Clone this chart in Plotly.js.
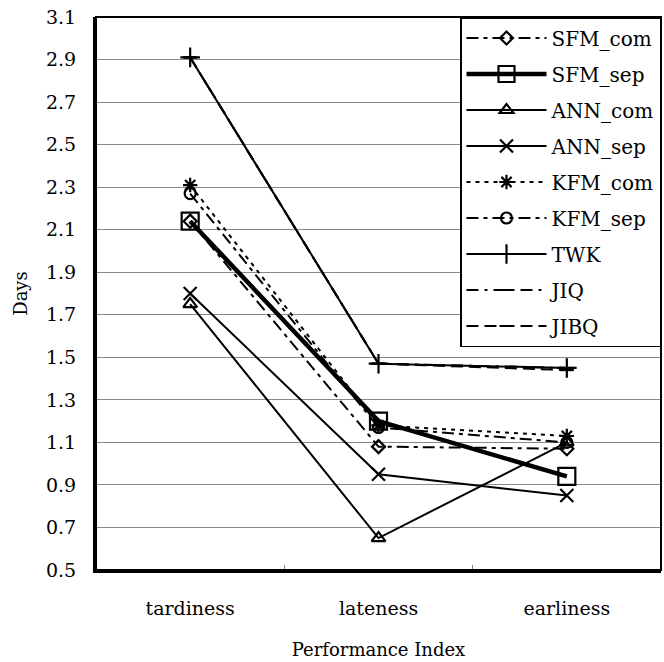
<!DOCTYPE html>
<html>
<head>
<meta charset="utf-8">
<script src="https://cdn.plot.ly/plotly-3.0.1.min.js"></script>
<style>html,body{margin:0;padding:0;background:#fff;}#chart{width:664px;height:662px;}</style>
</head>
<body>
<div id="chart"></div>
<script>
const categories = ["tardiness", "lateness", "earliness"];
const seriesNames = ["SFM_com", "SFM_sep", "ANN_com", "ANN_sep", "KFM_com", "KFM_sep", "TWK", "JIQ", "JIBQ"];
const SFM_com = [2.14, 1.08, 1.07];
const SFM_sep = [2.14, 1.20, 0.94];
const ANN_com = [1.75, 0.65, 1.10];
const ANN_sep = [1.80, 0.95, 0.85];
const KFM_com = [2.31, 1.18, 1.13];
const KFM_sep = [2.27, 1.17, 1.10];
const TWK = [2.91, 1.47, 1.45];
const JIQ = [2.91, 1.47, 1.45];
const JIBQ = [2.91, 1.47, 1.44];
const yTicks = ["0.5","0.7","0.9","1.1","1.3","1.5","1.7","1.9","2.1","2.3","2.5","2.7","2.9","3.1"];

const values = [SFM_com, SFM_sep, ANN_com, ANN_sep, KFM_com, KFM_sep, TWK, JIQ, JIBQ];
const styles = [
  {dash: "12px,5px,4px,5px", width: 2, symbol: "diamond-open", size: 10},
  {dash: "solid", width: 4.5, symbol: "square-open", size: 17},
  {dash: "solid", width: 2, symbol: "triangle-up-open", size: 12},
  {dash: "solid", width: 2, symbol: "x-thin-open", size: 13},
  {dash: "4px,5px", width: 2, symbol: "asterisk-open", size: 12},
  {dash: "12px,5px,4px,5px", width: 2, symbol: "circle-open", size: 11},
  {dash: "solid", width: 2, symbol: "cross-thin-open", size: 14},
  {dash: "12px,6px,3px,6px", width: 2, symbol: "line-ew-open", size: 10},
  {dash: "12px,6px", width: 2, symbol: "line-ew-open", size: 10}
];

const traces = seriesNames.map((name, i) => ({
  type: "scatter",
  mode: "lines+markers",
  name: name,
  x: categories,
  y: values[i],
  legendgroup: "g" + i,
  line: {color: "#000", width: styles[i].width, dash: styles[i].dash},
  marker: {symbol: styles[i].symbol, size: styles[i].size, color: "#000",
           line: {color: "#000", width: 2.2}}
}));

const font = "DejaVu Serif";
const layout = {
  width: 664, height: 662,
  margin: {l: 96, r: 3, t: 17, b: 92},
  paper_bgcolor: "#fff", plot_bgcolor: "#fff",
  font: {family: font, color: "#000", size: 20},
  showlegend: true,
  legend: {
    x: 1, xanchor: "right", y: 1, yanchor: "top",
    bgcolor: "#fff", bordercolor: "#000", borderwidth: 1.5,
    font: {family: font, size: 20, color: "#000"},
    tracegroupgap: 7, itemwidth: 80
  },
  xaxis: {
    type: "category",
    categoryarray: categories,
    range: [-0.5, 2.5],
    showline: true, linecolor: "#000", linewidth: 3,
    showgrid: false, zeroline: false,
    ticks: "inside", tickson: "boundaries", ticklen: 5, tickcolor: "#888", tickwidth: 1,
    ticklabelstandoff: 19,
    tickfont: {family: font, size: 19},
    title: {text: "Performance Index", font: {family: font, size: 18}, standoff: 26}
  },
  yaxis: {
    range: [0.5, 3.1],
    tickmode: "array",
    tickvals: yTicks.map(Number),
    ticktext: yTicks,
    showline: true, linecolor: "#000", linewidth: 3,
    showgrid: true, gridcolor: "#8a8a8a", gridwidth: 1,
    zeroline: false,
    ticks: "inside", ticklen: 4, tickcolor: "#888",
    ticklabelstandoff: 13,
    tickfont: {family: font, size: 19},
    title: {text: "Days", font: {family: font, size: 18}, standoff: 14}
  },
  shapes: [{type: "rect", xref: "paper", yref: "paper", x0: 0, x1: 1, y0: 0, y1: 1,
            line: {color: "#000", width: 2}, layer: "above"}]
};

Plotly.newPlot("chart", traces, layout, {displayModeBar: false, staticPlot: true});
</script>
</body>
</html>
